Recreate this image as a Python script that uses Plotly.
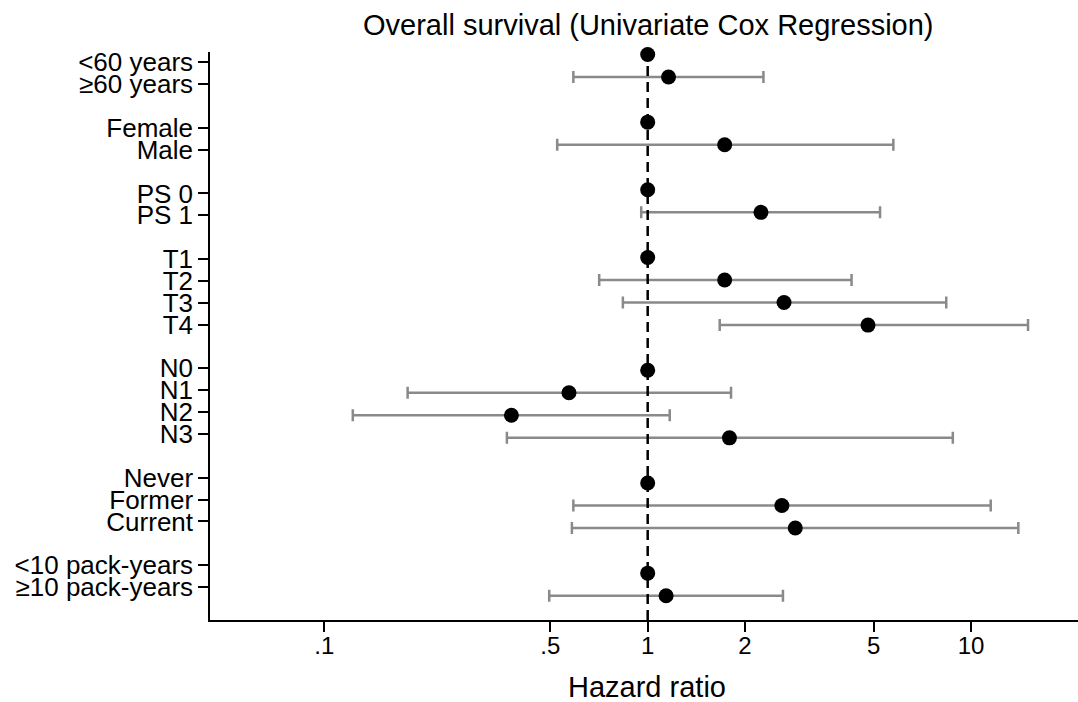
import plotly.graph_objects as go

# ---- data ----
labels = ["<60 years", "≥60 years", "Female", "Male", "PS 0", "PS 1",
          "T1", "T2", "T3", "T4", "N0", "N1", "N2", "N3",
          "Never", "Former", "Current", "<10 pack-years", "≥10 pack-years"]
groups = [0, 0, 1, 1, 2, 2, 3, 3, 3, 3, 4, 4, 4, 4, 5, 5, 5, 6, 6]
hr     = [1, 1.16, 1, 1.73, 1, 2.24, 1, 1.73, 2.64, 4.8, 1, 0.571, 0.379, 1.79,
          1, 2.60, 2.86, 1, 1.14]
ci_lo  = [None, 0.589, None, 0.525, None, 0.955, None, 0.708, 0.838, 1.67, None,
          0.181, 0.1225, 0.367, None, 0.589, 0.583, None, 0.496]
ci_hi  = [None, 2.28, None, 5.75, None, 5.23, None, 4.27, 8.38, 15.0, None,
          1.81, 1.17, 8.78, None, 11.5, 14.0, None, 2.62]
xtick_vals = [0.1, 0.5, 1, 2, 5, 10]
xtick_text = [".1", ".5", "1", "2", "5", "10"]
title_text = "Overall survival (Univariate Cox Regression)"
xtitle_text = "Hazard ratio"

FONT = "Liberation Sans, Arial, Helvetica, sans-serif"

# row index: one blank row between groups
rows = [i + g for i, g in enumerate(groups)]

ci_rows = [r for r, lo in zip(rows, ci_lo) if lo is not None]
ci_hr = [h for h, lo in zip(hr, ci_lo) if lo is not None]
ci_plus = [hi - h for h, lo, hi in zip(hr, ci_lo, ci_hi) if lo is not None]
ci_minus = [h - lo for h, lo in zip(hr, ci_lo) if lo is not None]

fig = go.Figure()

# invisible trace carrying the label axis (y2)
fig.add_trace(go.Scatter(
    x=hr, y=rows, xaxis="x", yaxis="y2", mode="markers",
    marker=dict(size=1, opacity=0), hoverinfo="skip", showlegend=False))

# reference line at HR = 1
fig.add_trace(go.Scatter(
    x=[1, 1], y=[0, 1], xaxis="x", yaxis="y3", mode="lines",
    line=dict(color="black", width=2.5, dash="10px,6px"),
    hoverinfo="skip", showlegend=False))

# confidence intervals
fig.add_trace(go.Scatter(
    x=ci_hr, y=ci_rows, xaxis="x", yaxis="y", mode="markers",
    marker=dict(size=1, color="rgba(0,0,0,0)"),
    error_x=dict(type="data", symmetric=False, array=ci_plus, arrayminus=ci_minus,
                 color="#8a8a8a", thickness=2.5, width=6),
    showlegend=False, cliponaxis=False))

# point estimates
fig.add_trace(go.Scatter(
    x=hr, y=rows, xaxis="x", yaxis="y", mode="markers",
    marker=dict(size=15, color="black", line=dict(width=0)),
    showlegend=False, cliponaxis=False))

fig.update_layout(
    width=1078, height=702,
    margin=dict(l=210, r=0, t=52, b=82, pad=0),
    paper_bgcolor="white", plot_bgcolor="white",
    font=dict(family=FONT, color="black"),
    xaxis=dict(type="log", range=[-1.3534, 1.3306],
               tickvals=xtick_vals, ticktext=xtick_text,
               ticks="outside", ticklen=10, tickwidth=1.5, tickcolor="black",
               ticklabelstandoff=-7,
               showline=True, linecolor="black", linewidth=1.5,
               showgrid=False, zeroline=False,
               tickfont=dict(family=FONT, size=24, color="black")),
    # marker row scale
    yaxis=dict(range=[25.078, -0.111], showticklabels=False, ticks="",
               showline=False, showgrid=False, zeroline=False),
    # label row scale
    yaxis2=dict(overlaying="y", side="left", anchor="x", range=[25.51, -0.471],
                tickvals=rows, ticktext=labels,
                ticks="outside", ticklen=10, tickwidth=1.5, tickcolor="black",
                showline=True, linecolor="black", linewidth=1.5,
                showgrid=False, zeroline=False,
                tickfont=dict(family=FONT, size=26, color="black")),
    yaxis3=dict(overlaying="y", range=[0, 1], visible=False),
    annotations=[
        dict(text=title_text, xref="paper", yref="paper", x=0.5052, y=1.0467,
             xanchor="center", yanchor="middle", showarrow=False,
             font=dict(family=FONT, size=29, color="black")),
        dict(text=xtitle_text, xref="paper", yref="paper", x=0.504, y=-0.118,
             xanchor="center", yanchor="middle", showarrow=False,
             font=dict(family=FONT, size=29, color="black")),
    ],
)

fig.write_html("out.html")
